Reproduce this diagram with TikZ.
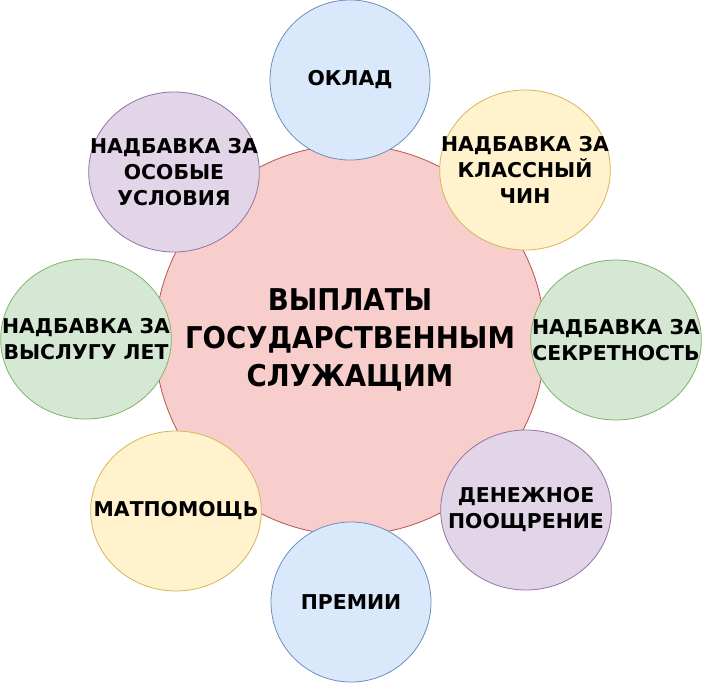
\documentclass[tikz,border=0pt]{standalone}
\usepackage{fontspec}
\usetikzlibrary{shapes.geometric}
\setmainfont{DejaVu Sans}
\newfontfamily\smallf{DejaVu Sans}
\newfontfamily\bigf{DejaVu Sans}[FakeStretch=0.92]
\definecolor{bluef}{HTML}{DAE8FC}\definecolor{blued}{HTML}{6C8EBF}
\definecolor{yelf}{HTML}{FFF2CC}\definecolor{yeld}{HTML}{D6B656}
\definecolor{grnf}{HTML}{D5E8D4}\definecolor{grnd}{HTML}{82B366}
\definecolor{purf}{HTML}{E1D5E7}\definecolor{purd}{HTML}{9673A6}
\definecolor{redf}{HTML}{F8CECC}\definecolor{redd}{HTML}{B85450}
\tikzset{
  lbl/.style={inner sep=0pt, align=center, font=\smallf\bfseries\fontsize{15.3}{19.5}\selectfont},
  sat/.style={ellipse, draw, line width=0.6pt, minimum width=120pt, minimum height=120pt, inner sep=0pt},
  wide/.style={minimum width=128pt},
  sblue/.style={sat, fill=bluef, draw=blued},
  syel/.style={sat, wide, fill=yelf, draw=yeld},
  sgrn/.style={sat, wide, fill=grnf, draw=grnd},
  spur/.style={sat, wide, fill=purf, draw=purd},
  hub/.style={circle, draw=redd, fill=redf, line width=0.6pt, minimum size=292.5pt, inner sep=0pt},
  hublbl/.style={inner sep=0pt, align=center, font=\bigf\bfseries\fontsize{22.5}{28.5}\selectfont}
}
\begin{document}
\begin{tikzpicture}[x=0.75pt,y=-0.75pt]
\useasboundingbox (0,0) rectangle (702,682);
\node[hub, label={[hublbl]center:ВЫПЛАТЫ\\ГОСУДАРСТВЕННЫМ\\СЛУЖАЩИМ}] (c) at (350,340) {};
\node[sblue, label={[lbl]center:ОКЛАД}] (oklad) at (350,80) {};
\node[syel, label={[lbl]center:НАДБАВКА ЗА\\КЛАССНЫЙ\\ЧИН}] (chin) at (525,170) {};
\node[sgrn, label={[lbl]center:НАДБАВКА ЗА\\СЕКРЕТНОСТЬ}] (sekr) at (616,340) {};
\node[spur, label={[lbl]center:ДЕНЕЖНОЕ\\ПООЩРЕНИЕ}] (den) at (526,510) {};
\node[sblue, label={[lbl]center:ПРЕМИИ}] (prem) at (351,602) {};
\node[syel, label={[lbl]center:МАТПОМОЩЬ}] (mat) at (176,511) {};
\node[sgrn, label={[lbl]center:НАДБАВКА ЗА\\ВЫСЛУГУ ЛЕТ}] (vys) at (86,339) {};
\node[spur, label={[lbl]center:НАДБАВКА ЗА\\ОСОБЫЕ\\УСЛОВИЯ}] (osob) at (174,172) {};
\end{tikzpicture}
\end{document}
